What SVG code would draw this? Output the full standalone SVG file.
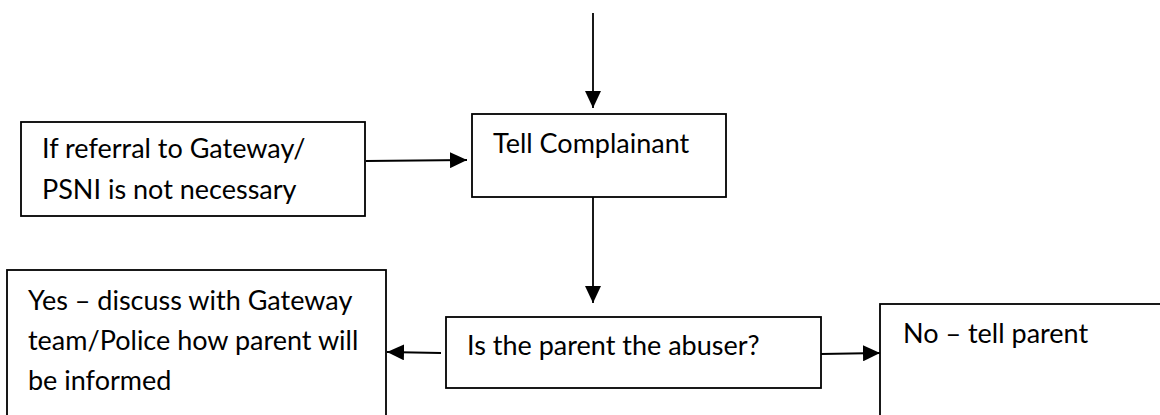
<svg xmlns="http://www.w3.org/2000/svg" width="1160" height="415" viewBox="0 0 1160 415">
<defs>
<marker id="ah" markerWidth="17" markerHeight="16" refX="17" refY="8" orient="auto" markerUnits="userSpaceOnUse"><path d="M0,0 L17,8 L0,16 Z" fill="#000"/></marker>
<style>
.box{fill:#fff;stroke:#000;stroke-width:1.8}
.t{font-family:Lato,"Liberation Sans",sans-serif;font-size:27px;fill:#000}
.c{stroke:#000;stroke-width:1.8;fill:none;marker-end:url(#ah)}
</style>
</defs>
<rect width="1160" height="415" fill="#fff"/>
<g id="connectors">
<line class="c" x1="593" y1="13" x2="593" y2="108"/>
<line class="c" x1="366" y1="161" x2="467" y2="160"/>
<line class="c" x1="593" y1="197" x2="593" y2="303"/>
<line class="c" x1="441" y1="353" x2="387" y2="352"/>
<line class="c" x1="821" y1="354" x2="880" y2="353"/>
</g>
<g id="referral"><rect class="box" x="21" y="122" width="344" height="94"/><text class="t" x="42" y="158">If referral to Gateway/</text><text class="t" x="42" y="199">PSNI is not necessary</text></g>
<g id="tell"><rect class="box" x="472" y="114" width="254" height="83"/><text class="t" x="493" y="153">Tell Complainant</text></g>
<g id="yes"><rect class="box" x="7" y="270" width="379" height="160"/><text class="t" x="28" y="310">Yes – discuss with Gateway</text><text class="t" x="28" y="350">team/Police how parent will</text><text class="t" x="28" y="390">be informed</text></g>
<g id="question"><rect class="box" x="446" y="317" width="375" height="71"/><text class="t" x="467" y="355">Is the parent the abuser?</text></g>
<g id="no"><rect class="box" x="880" y="304" width="300" height="130"/><text class="t" x="903" y="343">No – tell parent</text></g>
</svg>
